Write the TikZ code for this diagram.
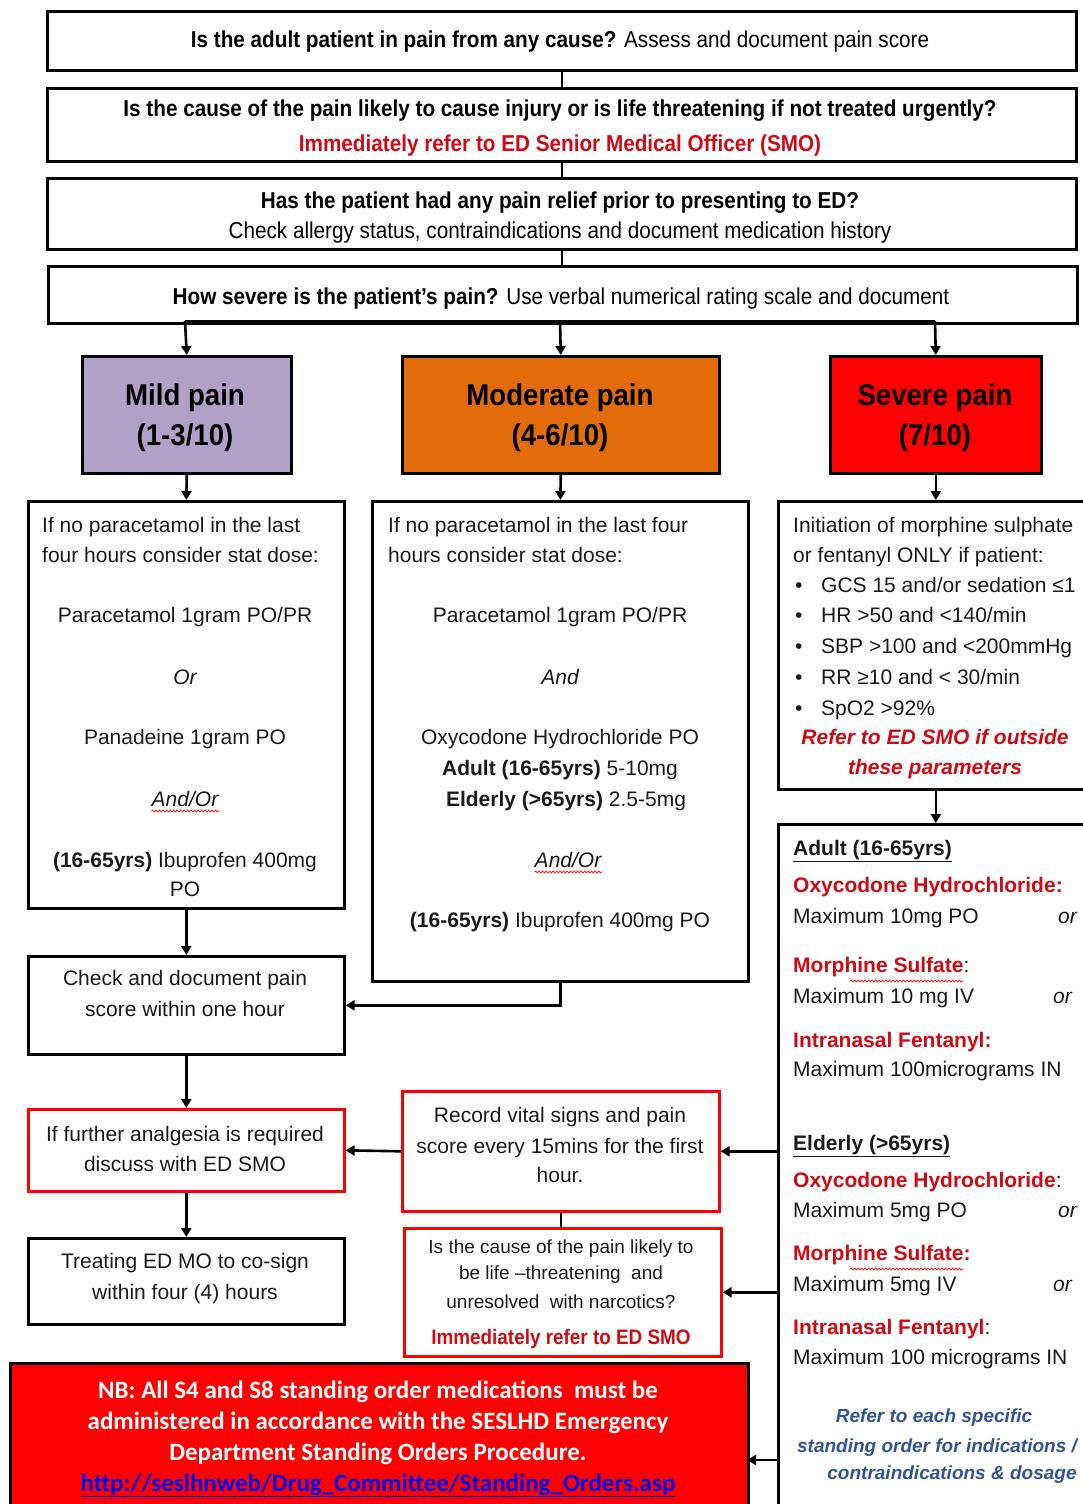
\documentclass[tikz,border=0pt]{standalone}
\usepackage{fontspec}
\setmainfont{Liberation Sans}
\newfontfamily\narrow[FakeStretch=0.90]{Liberation Sans}
\newfontfamily\painf[FakeStretch=0.92]{Liberation Sans}
\newfontfamily\calib{Carlito}
\usetikzlibrary{arrows.meta,decorations.pathmorphing}
\definecolor{lav}{HTML}{B1A0C7}
\definecolor{orng}{HTML}{E26B0A}
\definecolor{sred}{HTML}{FF0000}
\definecolor{dred}{HTML}{D00A14}
\definecolor{bluetxt}{HTML}{2F5597}
\definecolor{ink}{HTML}{1A1A1A}
\definecolor{linkblue}{HTML}{0000EE}
\newcommand\bodyf{\fontsize{21}{25}\selectfont}
\newcommand\topfnt{\narrow\fontsize{23}{27}\selectfont}
\newcommand\painfnt{\painf\bfseries\fontsize{30}{34}\selectfont}
\newcommand\causefnt{\fontsize{19}{23}\selectfont}
\newcommand\nbfnt{\calib\bfseries\fontsize{25}{29}\selectfont}
\newcommand\refnt{\fontsize{19}{23}\selectfont}
\begin{document}
\begin{tikzpicture}[x=1pt,y=-1pt,
  bbox/.style={draw=black,line width=2.6pt,anchor=north west,inner sep=0pt,fill=white},
  rbox/.style={draw=sred,line width=2.6pt,anchor=north west,inner sep=0pt,fill=white},
  conn/.style={line width=2.6pt,draw=black},
  arr/.style={conn,-{Triangle[length=9pt,width=10pt]}},
  tc/.style={anchor=base,inner sep=0pt,font=\bodyf,text=ink},
  tl/.style={anchor=base west,inner sep=0pt,font=\bodyf,text=ink},
  ttop/.style={anchor=base,inner sep=0pt,font=\topfnt,text=black},
  tpain/.style={anchor=base,inner sep=0pt,font=\painfnt,text=black},
  tcause/.style={anchor=base,inner sep=0pt,font=\causefnt,text=ink},
  tnb/.style={anchor=base,inner sep=0pt,font=\nbfnt,text=white},
  tref/.style={anchor=base,inner sep=0pt,font=\refnt,text=bluetxt},
  squig/.style={draw=red,line width=0.7pt,decorate,decoration={snake,amplitude=1pt,segment length=3.5pt}}
]
\useasboundingbox (0,0) rectangle (1083,1504);
\clip (0,0) rectangle (1083,1504);
\fill[white] (0,0) rectangle (1083,1504);

% ---- boxes ----
\node[bbox,minimum width=1029pt,minimum height=59pt] (b1) at (46,10) {};
\node[bbox,minimum width=1029pt,minimum height=73pt] (b2) at (46,87) {};
\node[bbox,minimum width=1029pt,minimum height=71pt] (b3) at (46,177) {};
\node[bbox,minimum width=1029pt,minimum height=57pt] (b4) at (47,265) {};

\node[bbox,fill=lav,minimum width=209pt,minimum height=117pt] (mild) at (81,355) {};
\node[bbox,fill=orng,minimum width=317pt,minimum height=117pt] (mod) at (401,355) {};
\node[bbox,fill=sred,minimum width=211pt,minimum height=117pt] (sev) at (829,355) {};

\node[bbox,minimum width=316pt,minimum height=407pt] (mildc) at (27,500) {};
\node[bbox,minimum width=376pt,minimum height=480pt] (modc) at (371,500) {};
\node[bbox,minimum width=316pt,minimum height=288pt] (sevc) at (777,500) {};
\node[bbox,minimum width=316pt,minimum height=700pt] (lowr) at (777,823) {};

\node[bbox,minimum width=316pt,minimum height=98pt] (check) at (27,955) {};
\node[rbox,minimum width=316pt,minimum height=82pt] (further) at (27,1108) {};
\node[bbox,minimum width=316pt,minimum height=86pt] (treat) at (27,1237) {};
\node[rbox,minimum width=317pt,minimum height=120pt] (record) at (401,1090) {};
\node[rbox,minimum width=317pt,minimum height=128pt] (cause) at (403,1227) {};
\node[bbox,fill=sred,minimum width=738pt,minimum height=170pt] (nb) at (9,1362) {};

% ---- connectors ----
\draw[conn] (b1.south) -- (b2.north);
\draw[conn] (b2.south) -- (b3.north);
\draw[conn] (b3.south) -- (b3.south |- b4.north);
\coordinate (j1) at (185,321);
\coordinate (j2) at (560,321);
\coordinate (j3) at (935,321);
\draw[conn] (j1) -- (j3);
\draw[arr] (j1) -- (mild.north);
\draw[arr] (j2) -- (mod.north);
\draw[arr] (j3) -- (sev.north);
\draw[arr] (mild.south) -- (mildc.north);
\draw[arr] (mod.south) -- (modc.north);
\draw[arr] (sev.south) -- (sevc.north -| sev.south);
\draw[arr] (sevc.south -| sev.south) -- (lowr.north -| sev.south);
\draw[arr] (mildc.south) -- (check.north);
\draw[arr] (modc.south) |- (check.east);
\draw[arr] (check.south) -- (further.north);
\draw[arr] (further.south) -- (treat.north);
\draw[arr] (record.west) -- (further.east);
\draw[arr] (lowr.west |- record.east) -- (record.east);
\draw[arr] (lowr.west |- cause.east) -- (cause.east);
\coordinate (nbin) at (747,1460);
\draw[arr] (lowr.west |- nbin) -- (nbin);
\draw[conn] (record.south) -- (record.south |- cause.north);

% ---- top texts ----
\node[ttop] (t1) at (560,48) {{\bfseries Is the adult patient in pain from any cause?} Assess and document pain score};
\node[ttop] (t2a) at (560,116) {\bfseries Is the cause of the pain likely to cause injury or is life threatening if not treated urgently?};
\node[ttop,text=dred] (t2b) at (560,151) {\bfseries Immediately refer to ED Senior Medical Officer (SMO)};
\node[ttop] (t3a) at (560,208) {\bfseries Has the patient had any pain relief prior to presenting to ED?};
\node[ttop] (t3b) at (560,238) {Check allergy status, contraindications and document medication history};
\node[ttop] (t4) at (561,304) {{\bfseries How severe is the patient’s pain?} Use verbal numerical rating scale and document};

% ---- pain boxes ----
\node[tpain] (pm1) at (185,405) {Mild pain};
\node[tpain] (pm2) at (185,445) {(1-3/10)};
\node[tpain] (po1) at (560,405) {Moderate pain};
\node[tpain] (po2) at (560,445) {(4-6/10)};
\node[tpain] (ps1) at (935,405) {Severe pain};
\node[tpain] (ps2) at (935,445) {(7/10)};

% ---- mild content ----
\node[tl] (m1) at (42,532) {If no paracetamol in the last};
\node[tl] (m2) at (42,562) {four hours consider stat dose:};
\node[tc] (m3) at (185,622) {Paracetamol 1gram PO/PR};
\node[tc] (m4) at (185,684) {\itshape Or};
\node[tc] (m5) at (185,744) {Panadeine 1gram PO};
\node[tc] (m6) at (185,806) {\itshape And/Or};
\draw[squig] (m6.base west) ++(0,5) -- ++(68,0);
\node[tc] (m7) at (185,867) {{\bfseries (16-65yrs)} Ibuprofen 400mg};
\node[tc] (m8) at (185,896) {PO};

% ---- moderate content ----
\node[tl] (o1) at (388,532) {If no paracetamol in the last four};
\node[tl] (o2) at (388,562) {hours consider stat dose:};
\node[tc] (o3) at (560,622) {Paracetamol 1gram PO/PR};
\node[tc] (o4) at (560,684) {\itshape And};
\node[tc] (o5) at (560,744) {Oxycodone Hydrochloride PO};
\node[tc] (o6) at (560,775) {{\bfseries Adult (16-65yrs)} 5-10mg};
\node[tc] (o7) at (566,806) {{\bfseries Elderly (>65yrs)} 2.5-5mg};
\node[tc] (o8) at (568,867) {\itshape And/Or};
\draw[squig] (o8.base west) ++(0,5) -- ++(68,0);
\node[tc] (o9) at (560,927) {{\bfseries (16-65yrs)} Ibuprofen 400mg PO};

% ---- severe content ----
\node[tl] (s1) at (793,532) {Initiation of morphine sulphate};
\node[tl] (s2) at (793,562) {or fentanyl ONLY if patient:};
\foreach \yy/\tt [count=\i] in {592/{GCS 15 and/or sedation ≤1},622/{HR >50 and <140/min},653/{SBP >100 and <200mmHg},684/{RR ≥10 and < 30/min},715/{SpO2 >92\%}}{
  \node[tl] (sb\i) at (795,\yy) {•};
  \node[tl] (st\i) at (821,\yy) {\tt};
}
\node[tc,text=dred] (s8) at (935,744) {\bfseries\itshape Refer to ED SMO if outside};
\node[tc,text=dred] (s9) at (935,774) {\bfseries\itshape these parameters};

% ---- lower right ----
\node[tl] (r1) at (793,855) {\bfseries\underline{Adult (16-65yrs)}};
\node[tl,text=dred] (r2) at (793,892) {\bfseries Oxycodone Hydrochloride:};
\node[tl] (r3) at (793,923) {Maximum 10mg PO};
\node[tl] (r3o) at (1058,923) {\itshape or};
\node[tl] (r4) at (793,972) {\textcolor{dred}{\bfseries Morphine Sulfate}:};
\draw[squig] (850,981) -- (963,981);
\node[tl] (r5) at (793,1003) {Maximum 10 mg IV};
\node[tl] (r5o) at (1053,1003) {\itshape or};
\node[tl,text=dred] (r6) at (793,1047) {\bfseries Intranasal Fentanyl:};
\node[tl] (r7) at (793,1076) {Maximum 100micrograms IN};
\node[tl] (r8) at (793,1150) {\bfseries\underline{Elderly (>65yrs)}};
\node[tl] (r9) at (793,1187) {\textcolor{dred}{\bfseries Oxycodone Hydrochloride}:};
\node[tl] (r10) at (793,1217) {Maximum 5mg PO};
\node[tl] (r10o) at (1058,1217) {\itshape or};
\node[tl,text=dred] (r11) at (793,1260) {\bfseries Morphine Sulfate:};
\draw[squig] (850,1269) -- (963,1269);
\node[tl] (r12) at (793,1291) {Maximum 5mg IV};
\node[tl] (r12o) at (1053,1291) {\itshape or};
\node[tl] (r13) at (793,1334) {\textcolor{dred}{\bfseries Intranasal Fentanyl}:};
\node[tl] (r14) at (793,1364) {Maximum 100 micrograms IN};
\node[tref] (r15) at (934,1422) {\bfseries\itshape Refer to each specific};
\node[tref] (r16) at (937,1452) {\bfseries\itshape standing order for indications /};
\node[tref] (r17) at (952,1479) {\bfseries\itshape contraindications \& dosage};

% ---- lower left ----
\node[tc] (c1) at (185,985) {Check and document pain};
\node[tc] (c2) at (185,1016) {score within one hour};
\node[tc] (f1) at (185,1141) {If further analgesia is required};
\node[tc] (f2) at (185,1171) {discuss with ED SMO};
\node[tc] (tr1) at (185,1268) {Treating ED MO to co-sign};
\node[tc] (tr2) at (185,1299) {within four (4) hours};
\node[tc] (rv1) at (560,1122) {Record vital signs and pain};
\node[tc] (rv2) at (560,1153) {score every 15mins for the first};
\node[tc] (rv3) at (560,1182) {hour.};
\node[tcause] (ca1) at (561,1253) {Is the cause of the pain likely to};
\node[tcause] (ca2) at (561,1279) {be life –threatening\ \ and};
\node[tcause] (ca3) at (561,1308) {unresolved\ \ with narcotics?};
\node[tcause,text=dred] (ca4) at (561,1344) {\narrow\bfseries\fontsize{21}{25}\selectfont Immediately refer to ED SMO};

% ---- NB ----
\node[tnb] (nb1) at (378,1398) {NB: All S4 and S8 standing order medications\ \ must be};
\node[tnb] (nb2) at (378,1429) {administered in accordance with the SESLHD Emergency};
\node[tnb] (nb3) at (378,1460) {Department Standing Orders Procedure.};
\node[tnb,text=linkblue] (nb4) at (378,1491) {\underline{http://seslhnweb/Drug\_Committee/Standing\_Orders.asp}};
\end{tikzpicture}
\end{document}
